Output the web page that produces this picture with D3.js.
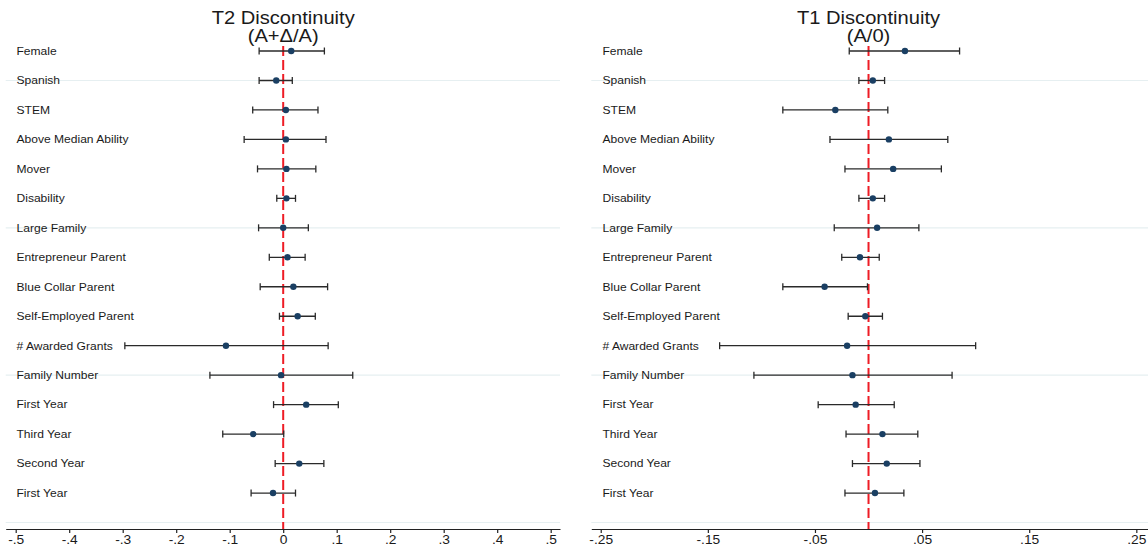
<!DOCTYPE html>
<html>
<head>
<meta charset="utf-8">
<script src="https://cdn.jsdelivr.net/npm/d3@7/dist/d3.min.js"></script>
<style>
  html, body { margin: 0; padding: 0; background: #fff; }
  text { font-family: "Liberation Sans", Arial, Helvetica, sans-serif; fill: #1a1a1a; }
</style>
</head>
<body>
<svg id="chart" width="1148" height="548"></svg>
<script>
// ---------- DATA ----------
const categories = ["Female", "Spanish", "STEM", "Above Median Ability", "Mover", "Disability",
  "Large Family", "Entrepreneur Parent", "Blue Collar Parent", "Self-Employed Parent",
  "# Awarded Grants", "Family Number", "First Year", "Third Year", "Second Year", "First Year"];

// T2 Discontinuity (A+Δ/A)
const t2Est = [0.015, -0.013, 0.005, 0.005, 0.006, 0.006, 0.000, 0.008, 0.019, 0.027, -0.107, -0.004, 0.043, -0.056, 0.030, -0.019];
const t2Lo  = [-0.045, -0.045, -0.057, -0.073, -0.048, -0.012, -0.046, -0.026, -0.043, -0.007, -0.296, -0.137, -0.018, -0.113, -0.015, -0.060];
const t2Hi  = [0.077, 0.017, 0.065, 0.080, 0.061, 0.023, 0.047, 0.041, 0.083, 0.060, 0.084, 0.130, 0.103, 0.001, 0.076, 0.023];

// T1 Discontinuity (A/0)
const t1Est = [0.034, 0.004, -0.031, 0.019, 0.023, 0.004, 0.008, -0.008, -0.041, -0.003, -0.020, -0.015, -0.012, 0.013, 0.017, 0.006];
const t1Lo  = [-0.018, -0.009, -0.080, -0.036, -0.022, -0.009, -0.032, -0.025, -0.080, -0.019, -0.139, -0.107, -0.047, -0.021, -0.015, -0.022];
const t1Hi  = [0.085, 0.015, 0.018, 0.074, 0.068, 0.015, 0.047, 0.010, -0.001, 0.013, 0.100, 0.078, 0.024, 0.046, 0.048, 0.033];

const t2Ticks = [-0.5, -0.4, -0.3, -0.2, -0.1, 0, 0.1, 0.2, 0.3, 0.4, 0.5];
const t2TickLabels = ["-.5", "-.4", "-.3", "-.2", "-.1", "0", ".1", ".2", ".3", ".4", ".5"];
const t1Ticks = [-0.25, -0.15, -0.05, 0.05, 0.15, 0.25];
const t1TickLabels = ["-.25", "-.15", "-.05", ".05", ".15", ".25"];

const titles = [["T2 Discontinuity", "(A+\u0394/A)"], ["T1 Discontinuity", "(A/0)"]];
const gridRows = [2, 7, 12, 17];

// ---------- LAYOUT ----------
const svg = d3.select("#chart");
const SX = 1.15; // horizontal text stretch
const y = d3.scaleLinear().domain([0.83, 17.22]).range([46, 529]);

const panels = [
  { est: t2Est, lo: t2Lo, hi: t2Hi, ticks: t2Ticks, labels: t2TickLabels, title: titles[0],
    domain: [-0.5187, 0.5174], range: [5.7, 560], labelX: 16.5 },
  { est: t1Est, lo: t1Lo, hi: t1Hi, ticks: t1Ticks, labels: t1TickLabels, title: titles[1],
    domain: [-0.2588, 0.2609], range: [591.3, 1148], labelX: 602.5 }
];

function stretchedText(g, x, yy, str, size, anchor) {
  g.append("text")
    .attr("transform", `translate(${x},${yy}) scale(${SX},1)`)
    .attr("text-anchor", anchor)
    .style("font-size", size + "px")
    .text(str);
}

panels.forEach(p => {
  const x = d3.scaleLinear().domain(p.domain).range(p.range);
  const g = svg.append("g");

  // gridlines
  g.selectAll("line.grid").data(gridRows).join("line")
    .attr("class", "grid")
    .attr("x1", p.range[0]).attr("x2", p.range[1])
    .attr("y1", d => y(d)).attr("y2", d => y(d))
    .attr("stroke", "#e6eff1").attr("stroke-width", 1.2);

  // titles
  stretchedText(g, x(0), 23.5, p.title[0], 17.5, "middle");
  stretchedText(g, x(0), 41.5, p.title[1], 17.5, "middle");

  // row labels
  categories.forEach((c, i) => {
    stretchedText(g, p.labelX, y(i + 1) + 3.8, c, 10.5, "start");
  });

  // axis
  const axis = d3.axisBottom(x)
    .tickValues(p.ticks)
    .tickFormat((d, i) => p.labels[i])
    .tickSize(4)
    .tickSizeOuter(0)
    .tickPadding(2);
  const ag = g.append("g").attr("transform", `translate(0,${y.range()[1]})`).call(axis);
  ag.select(".domain").attr("stroke", "#222").attr("stroke-width", 1.2);
  ag.selectAll(".tick line").attr("stroke", "#222").attr("stroke-width", 1.2);
  ag.selectAll(".tick text").each(function(d, i) {
    const t = d3.select(this);
    t.attr("transform", `scale(${SX},1)`)
     .attr("x", 0)
     .style("font-size", "12px")
     .style("font-family", '"Liberation Sans", Arial, sans-serif')
     .attr("fill", "#1a1a1a");
  });

  // red dashed zero line
  g.append("line")
    .attr("x1", x(0)).attr("x2", x(0))
    .attr("y1", y.range()[0]).attr("y2", y.range()[1])
    .attr("stroke", "#ee1c25").attr("stroke-width", 2)
    .attr("stroke-dasharray", "10,4");

  // CI bars
  const rows = categories.map((c, i) => ({ i: i + 1, est: p.est[i], lo: p.lo[i], hi: p.hi[i] }));
  const bars = g.selectAll("g.bar").data(rows).join("g").attr("class", "bar");
  bars.append("line")
    .attr("x1", d => x(d.lo)).attr("x2", d => x(d.hi))
    .attr("y1", d => y(d.i)).attr("y2", d => y(d.i))
    .attr("stroke", "#2a2a2a").attr("stroke-width", 1.3);
  bars.append("line")
    .attr("x1", d => x(d.lo)).attr("x2", d => x(d.lo))
    .attr("y1", d => y(d.i) - 3.5).attr("y2", d => y(d.i) + 3.5)
    .attr("stroke", "#2a2a2a").attr("stroke-width", 1.3);
  bars.append("line")
    .attr("x1", d => x(d.hi)).attr("x2", d => x(d.hi))
    .attr("y1", d => y(d.i) - 3.5).attr("y2", d => y(d.i) + 3.5)
    .attr("stroke", "#2a2a2a").attr("stroke-width", 1.3);
  bars.append("circle")
    .attr("cx", d => x(d.est)).attr("cy", d => y(d.i))
    .attr("r", 3.2)
    .attr("fill", "#1a3f63");
});
</script>
</body>
</html>
